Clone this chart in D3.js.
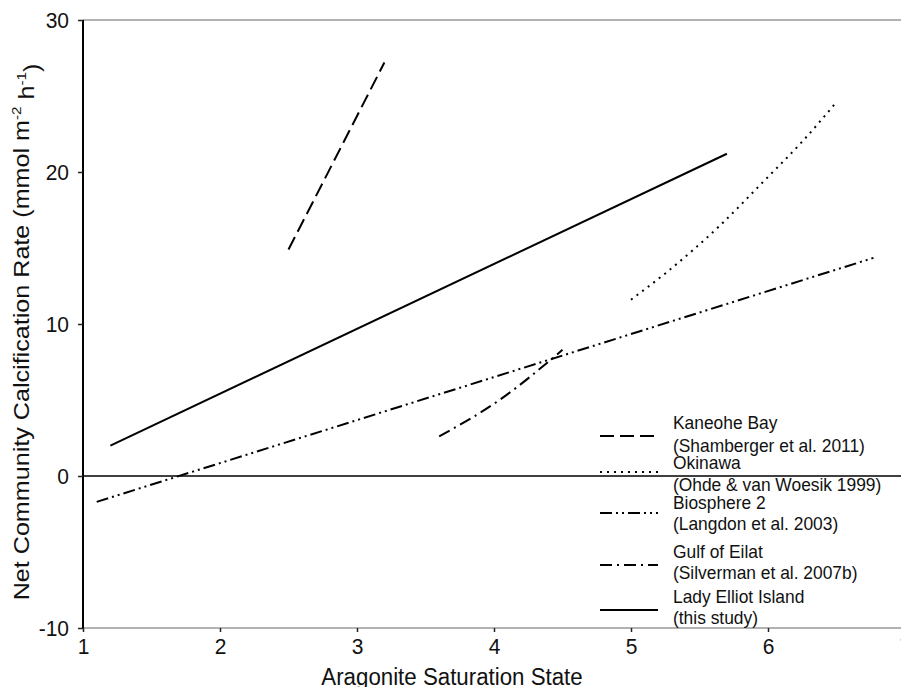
<!DOCTYPE html>
<html><head><meta charset="utf-8">
<script src="https://cdn.jsdelivr.net/npm/d3@7"></script>
<style>body{margin:0;background:#fff}svg{display:block}text{font-family:"Liberation Sans",Arial,sans-serif;fill:#111}</style>
</head><body><svg id="c" width="901" height="687"></svg>
<script>
const xTicks = [1,2,3,4,5,6,7];
const yTicks = [-10,0,10,20,30];
const seriesNames = ["Kaneohe Bay","Okinawa","Biosphere 2","Gulf of Eilat","Lady Elliot Island"];
const seriesRefs = ["(Shamberger et al. 2011)","(Ohde & van Woesik 1999)","(Langdon et al. 2003)","(Silverman et al. 2007b)","(this study)"];
const kaneoheX = [2.5, 3.2];
const kaneoheY = [14.9, 27.2];
const okinawaX = [5.0, 5.26, 5.64, 5.97, 6.26, 6.5];
const okinawaY = [11.6, 13.4, 16.4, 19.4, 22.1, 24.6];
const biosphereX = [1.1, 6.77];
const biosphereY = [-1.7, 14.35];
const eilatX = [3.6, 4.04, 4.5];
const eilatY = [2.6, 5.0, 8.3];
const ladyX = [1.2, 5.7];
const ladyY = [2.0, 21.2];

const svg = d3.select("#c");
const x = d3.scaleLinear().domain([1,7]).range([83,905]);
const y = d3.scaleLinear().domain([-10,30]).range([628,20]);

function stretch(sel, sy){
  sel.each(function(){
    const t = d3.select(this);
    const tx = +t.attr("x")||0, ty = +t.attr("y")||0;
    t.attr("transform",`translate(${tx},${ty}) scale(1,${sy}) translate(${-tx},${-ty})`);
  });
}

// top frame line
svg.append("line").attr("x1",83).attr("x2",901).attr("y1",y(30)).attr("y2",y(30)).attr("stroke","#999").attr("stroke-width",1.5);
// bottom axis
const gx = svg.append("g").attr("transform",`translate(0,${y(-10)})`)
  .call(d3.axisBottom(x).tickValues(xTicks).tickFormat(d=>String(d)).tickSize(4).tickPadding(6));
gx.select(".domain").attr("stroke","#999").attr("stroke-width",1.5).attr("d","M83,0H901");
gx.selectAll(".tick line").attr("stroke","#222").attr("stroke-width",1.5);
gx.selectAll("text").attr("font-size",21).style("fill","#111");
stretch(gx.selectAll("text"), 1.08);
// left axis
const gy = svg.append("g").attr("transform",`translate(${x(1)},0)`)
  .call(d3.axisLeft(y).tickValues(yTicks).tickFormat(d=>String(d)).tickSize(5).tickPadding(9));
gy.select(".domain").attr("stroke","#000").attr("stroke-width",2).attr("d",`M0,${y(30)}V${y(-10)}`);
gy.selectAll(".tick line").attr("stroke","#222").attr("stroke-width",1.5);
gy.selectAll("text").attr("font-size",21).style("fill","#111");
stretch(gy.selectAll("text"), 1.08);

// zero line
svg.append("line").attr("x1",x(1)).attr("x2",901).attr("y1",y(0)).attr("y2",y(0)).attr("stroke","#000").attr("stroke-width",1.5);

const dashes = ["14,6","2,5","12,4,2,4,2,4","12,5,2,5",null];
const data = [
  d3.zip(kaneoheX,kaneoheY), d3.zip(okinawaX,okinawaY), d3.zip(biosphereX,biosphereY),
  d3.zip(eilatX,eilatY), d3.zip(ladyX,ladyY)];
const line = d3.line().x(d=>x(d[0])).y(d=>y(d[1])).curve(d3.curveMonotoneX);
data.forEach((pts,i)=>{
  const p = svg.append("path").attr("d",line(pts)).attr("fill","none").attr("stroke","#000").attr("stroke-width",2);
  if (dashes[i]) p.attr("stroke-dasharray",dashes[i]);
});

// legend
const legLineY = [436,472,513,565,610];
const legNameY = [423,463,503,552,597];
const legRefY = [446,485,524,573,618];
seriesNames.forEach((n,i)=>{
  const l = svg.append("line").attr("x1",600).attr("x2",658).attr("y1",legLineY[i]).attr("y2",legLineY[i])
    .attr("stroke","#000").attr("stroke-width",2);
  if (dashes[i]) l.attr("stroke-dasharray",dashes[i]);
  const t1 = svg.append("text").attr("x",673).attr("y",legNameY[i]+6).attr("font-size",17.4).text(n);
  const t2 = svg.append("text").attr("x",673).attr("y",legRefY[i]+6).attr("font-size",17.4).text(seriesRefs[i]);
  stretch(t1,1.06); stretch(t2,1.06);
});

// axis titles
const xt = svg.append("text").attr("x",452).attr("y",685).attr("text-anchor","middle").attr("font-size",22.3).text("Aragonite Saturation State");
stretch(xt,1.08);
const yt = svg.append("text").attr("transform","translate(29,332) rotate(-90) scale(1.17,1)").attr("text-anchor","middle").attr("font-size",21.5);
yt.append("tspan").text("Net Community Calcification Rate (mmol m");
yt.append("tspan").attr("font-size",13).attr("dy","-0.6em").text("-2");
yt.append("tspan").attr("dy","0.6em").text(" h");
yt.append("tspan").attr("font-size",13).attr("dy","-0.6em").text("-1");
yt.append("tspan").attr("dy","0.6em").text(")");
</script></body></html>
